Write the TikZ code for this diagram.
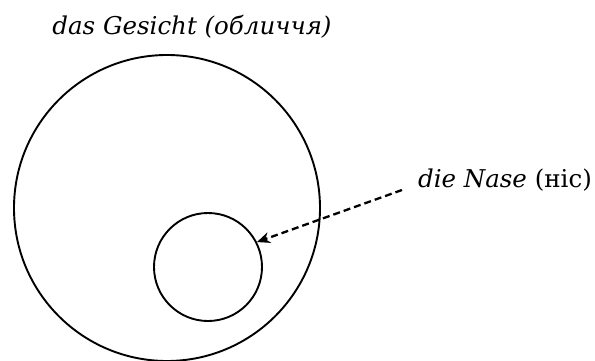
\documentclass[tikz,border=0pt]{standalone}
\usepackage{fontspec}
\setmainfont{DejaVu Serif}
\usetikzlibrary{arrows.meta}
\tikzset{ring/.style={draw,circle,line width=1.9pt,inner sep=0pt},
 lbl/.style={font=\fontsize{24.5}{29}\selectfont,inner sep=0pt},
 pointer/.style={-{Stealth[length=13pt,width=11pt]},line width=2.3pt,dash pattern=on 7pt off 4pt}}
\begin{document}
\begin{tikzpicture}[x=1pt,y=-1pt]
\useasboundingbox (0,0) rectangle (595,361);
\node[ring,minimum size=306pt](face) at (167,208){};
\node[ring,minimum size=108pt](nose) at (208,267){};
\node[lbl,anchor=base](gesicht) at (192,35){\itshape das Gesicht (обличчя)};
\node[lbl,anchor=base east](nase) at (592,187){\itshape die Nase\/ \upshape(ніс)};
\coordinate (from) at (402,190);
\draw[pointer](from)--(nose.27);
\end{tikzpicture}
\end{document}
